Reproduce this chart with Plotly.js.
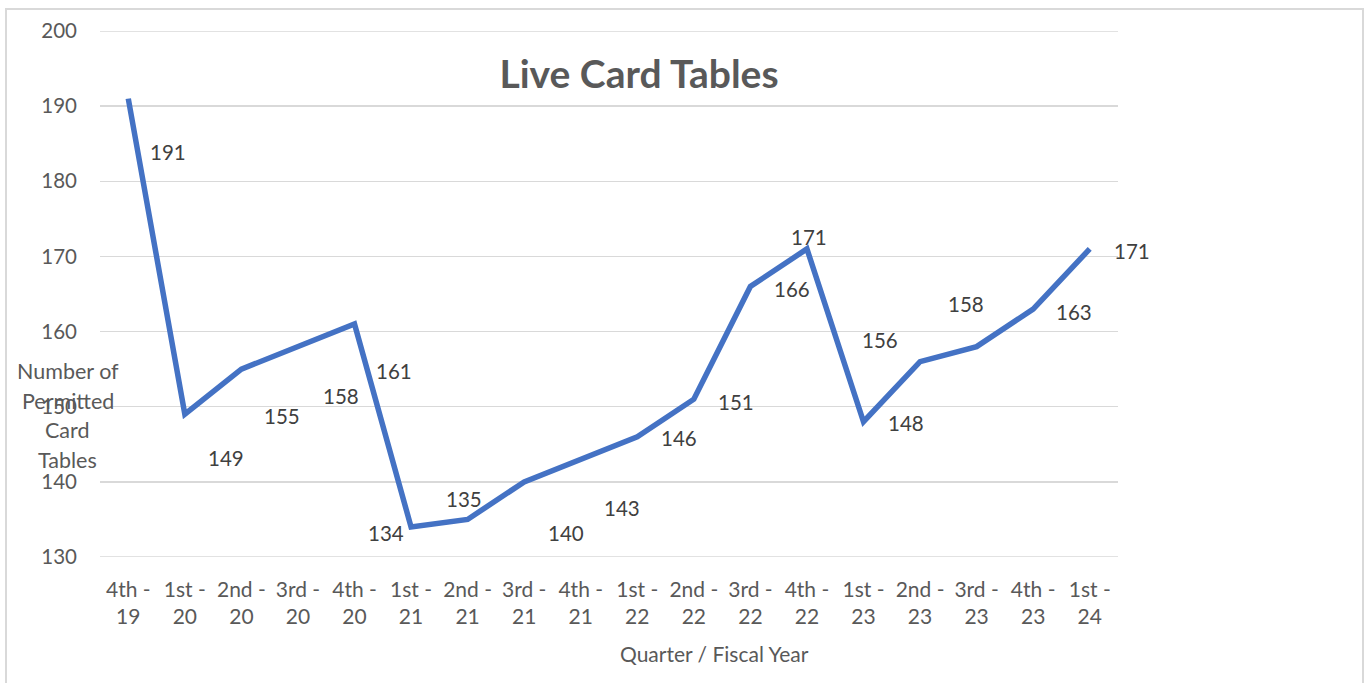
<!DOCTYPE html>
<html>
<head>
<meta charset="utf-8">
<script src="https://cdn.plot.ly/plotly-3.0.1.min.js"></script>
<style>
  html, body { margin: 0; padding: 0; background: #ffffff; }
  #chart { width: 1370px; height: 683px; position: relative; }
  #frame { position: absolute; left: 5px; top: 8px; width: 1359px; height: 700px;
           border: 2px solid #d9d9d9; box-sizing: border-box; pointer-events: none; }
</style>
</head>
<body>
<div id="chart"></div>
<div id="frame"></div>
<script>
// ---- data ----
const quarters = ["4th", "1st", "2nd", "3rd", "4th", "1st", "2nd", "3rd", "4th", "1st", "2nd", "3rd", "4th", "1st", "2nd", "3rd", "4th", "1st"];
const years    = ["19", "20", "20", "20", "20", "21", "21", "21", "21", "22", "22", "22", "22", "23", "23", "23", "23", "24"];
const tables   = [191, 149, 155, 158, 161, 134, 135, 140, 143, 146, 151, 166, 171, 148, 156, 158, 163, 171];
const chartTitle = "Live Card Tables";
const xTitle = "Quarter / Fiscal Year";
const yTitleLines = ["Number of", "Permitted", "Card", "Tables"];
const yMin = 130, yMax = 200, yStep = 10;

// label placement offsets (pixels, right / down) mimicking the original label layout
const labelDx = [40, 41, 41, 43, 39, -25, -4, 41.5, 41, 41.6, 41.7, 41.7, 2, 42, -39.7, -10.3, 40.4, 41.8];
const labelDy = [53.4, 44, 46.5, 49, 46.6, 6, -20, 51.4, 49, 1, 2.5, 2.8, -12, 1.6, -21.6, -42.6, 3, 2];

const idx = tables.map((_, i) => i);
const tickText = quarters.map((q, i) => q + " -<br>" + years[i]);

const FONT = "Lato, 'Open Sans', sans-serif";

const trace = {
  type: "scatter",
  mode: "lines",
  x: idx,
  y: tables,
  line: { color: "#4472C4", width: 5.5, shape: "linear" },
  hoverinfo: "x+y"
};

const annotations = [];
tables.forEach((v, i) => {
  annotations.push({
    xref: "x", yref: "y", x: i, y: v,
    text: String(v), showarrow: false,
    xanchor: "center", yanchor: "middle",
    xshift: labelDx[i], yshift: -labelDy[i],
    font: { family: FONT, size: 20.5, color: "#404040" }
  });
});
// y-axis title lines
yTitleLines.forEach((t, k) => {
  annotations.push({
    xref: "paper", yref: "paper",
    x: (67 - 99.5) / 1019, y: (557 - (371 + k * 29.5)) / 526,
    text: t, showarrow: false, xanchor: "center", yanchor: "middle",
    font: { family: FONT, size: 21.5, color: "#595959" }
  });
});
// x-axis title
annotations.push({
  xref: "paper", yref: "paper",
  x: (715 - 99.5) / 1019, y: (557 - 653) / 526,
  text: xTitle, showarrow: false, xanchor: "center", yanchor: "middle",
  font: { family: FONT, size: 21, color: "#595959" }
});

// edge gridlines (Plotly hides gridlines lying on the range ends)
const shapes = [yMin, yMax].map(v => ({
  type: "line", xref: "paper", yref: "y", x0: 0, x1: 1, y0: v, y1: v,
  line: { color: "#d9d9d9", width: 1.5 }, layer: "below"
}));

const layout = {
  width: 1370, height: 683,
  margin: { l: 99.5, r: 251.5, t: 31, b: 126, pad: 0 },
  paper_bgcolor: "rgba(0,0,0,0)",
  plot_bgcolor: "#ffffff",
  showlegend: false,
  title: {
    text: "<b>" + chartTitle + "</b>",
    xref: "container", yref: "container",
    x: 639 / 1370, y: 1 - 74 / 683,
    xanchor: "center", yanchor: "middle",
    font: { family: FONT, size: 39, color: "#595959" }
  },
  xaxis: {
    type: "linear",
    range: [-0.5, 17.5],
    tickmode: "array",
    tickvals: idx,
    ticktext: tickText,
    showgrid: false,
    zeroline: false,
    showline: false,
    ticks: "",
    ticklabelstandoff: 18,
    tickfont: { family: FONT, size: 21, color: "#595959" },
    fixedrange: true
  },
  yaxis: {
    range: [yMin, yMax],
    tickmode: "linear",
    tick0: yMin, dtick: yStep,
    showgrid: true,
    gridcolor: "#d9d9d9",
    gridwidth: 1.5,
    zeroline: false,
    showline: false,
    ticks: "",
    ticklabelstandoff: 22,
    tickfont: { family: FONT, size: 20.5, color: "#595959" },
    fixedrange: true
  },
  shapes: shapes,
  annotations: annotations
};

Plotly.newPlot("chart", [trace], layout, { displayModeBar: false, staticPlot: true });
</script>
</body>
</html>
